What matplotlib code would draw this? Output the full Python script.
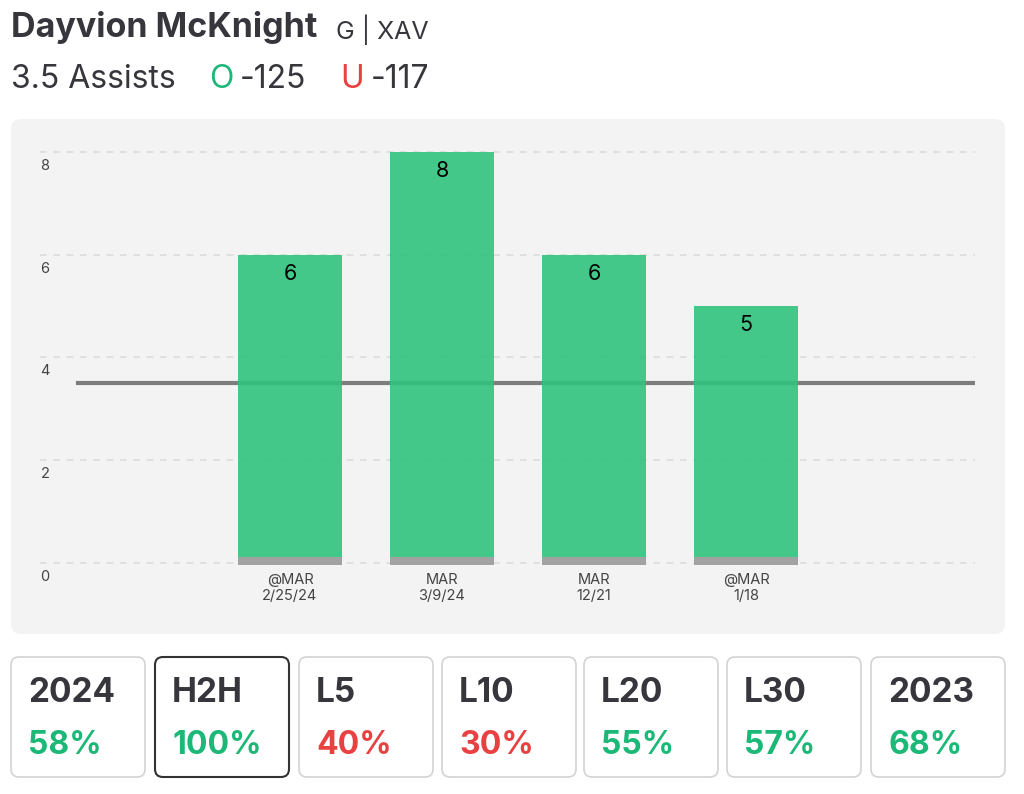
import numpy as np
import matplotlib
matplotlib.use('Agg')
import matplotlib.pyplot as plt
from matplotlib.patches import FancyBboxPatch
from matplotlib.transforms import IdentityTransform

# data
player = 'Dayvion McKnight'
tag = 'G | XAV'
prop_line = 3.5
prop_name = 'Assists'
over_odds = '-125'
under_odds = '-117'

games = ['@MAR\n2/25/24', 'MAR\n3/9/24', 'MAR\n12/21', '@MAR\n1/18']
assists = [6, 8, 6, 5]
yticks = [0, 2, 4, 6, 8]

box_labels = ['2024', 'H2H', 'L5', 'L10', 'L20', 'L30', '2023']
box_pcts = [58, 100, 40, 30, 55, 57, 68]
selected = 'H2H'

W, H = 1024, 794
GREEN_BAR = '#31c47e'
GREEN_TXT = '#1bb877'
RED = '#e84142'
DARK = '#36363c'

plt.rcParams['font.family'] = ['Inter', 'DejaVu Sans']

fig = plt.figure(figsize=(W/100, H/100), dpi=100)
fig.patch.set_facecolor('white')

def rbox(x0, y0, x1, y1, r, fc, ec='none', lw=1.0):
  p = FancyBboxPatch((x0 + r, H - y1 + r), (x1 - x0) - 2*r, (y1 - y0) - 2*r,
                     boxstyle='round,pad=%f' % r, fc=fc, ec=ec, lw=lw,
                     transform=IdentityTransform(), zorder=0)
  fig.patches.append(p)

def ftext(x, y, s, **kw):
  fig.text(x/W, 1 - y/H, s, **kw)

# header
ftext(11, 28, player, fontsize=24.5, fontweight='bold', color=DARK, va='center')
ftext(336, 30, tag, fontsize=18, color=DARK, va='center')
ftext(11, 79, '%s %s' % (prop_line, prop_name), fontsize=23, color=DARK, va='center')
ftext(209, 79, 'O', fontsize=23, color=GREEN_TXT, va='center')
ftext(240, 79, over_odds, fontsize=23, color=DARK, va='center')
ftext(340, 79, 'U', fontsize=23, color=RED, va='center')
ftext(371, 79, under_odds, fontsize=23, color=DARK, va='center')

# chart panel
rbox(11, 119, 1005, 634, 10, '#f3f3f3')

# axes: pixels 40..975 horizontally, 140..575 vertically
ppu = 51.4
y_top, y_bot = 140, 575
ax = fig.add_axes([40/W, 1 - y_bot/H, (975 - 40)/W, (y_bot - y_top)/H])
ax.set_zorder(5)
ax.set_facecolor('none')
ax.set_ylim(-(y_bot - 563)/ppu, (563 - y_top)/ppu)
slot = 152.0
ax.set_xlim((40 - 290)/slot, (975 - 290)/slot)
for s in ax.spines.values():
  s.set_visible(False)
ax.set_xticks([])
ax.set_yticks([])

for t in yticks:
  ax.axhline(t, color='#dcdcdc', lw=1.2, ls=(0, (4, 4)), zorder=0)
  ax.text(5/slot + ax.get_xlim()[0], t - 14/ppu, str(t), fontsize=10.5, color='#444444',
          ha='center', va='center')

x = np.arange(len(games))
bw = 104/slot
gray_h = 8/ppu
ax.plot([(78 - 290)/slot, ax.get_xlim()[1]], [prop_line, prop_line], color='#7d7d7d', lw=3, zorder=1)
ax.bar(x, np.array(assists) - gray_h + 2/ppu, bottom=gray_h - 2/ppu, width=bw, color=GREEN_BAR,
       alpha=0.9, zorder=2, lw=0)
ax.bar(x, gray_h, bottom=-2/ppu, width=bw, color='#a2a2a2', zorder=3, lw=0)
for xi, v in zip(x, assists):
  ax.text(xi, v - 19/ppu, str(v), fontsize=15.5, color='black', ha='center', va='center', zorder=4)
for xi, g in zip(x, games):
  ax.text(xi, -10/ppu, g, fontsize=10.5, color='#444444', ha='center', va='top',
          linespacing=1.2, clip_on=False)

# stat boxes
bx0 = [11, 155, 299, 442, 584, 727, 871]
for b0, lab, pct in zip(bx0, box_labels, box_pcts):
  b1 = b0 + 134
  sel = lab == selected
  rbox(b0, 657, b1, 777, 8, 'white', ec='#333333' if sel else '#d3d3d3', lw=1.5 if sel else 1.2)
  ftext(b0 + 17, 693, lab, fontsize=24, fontweight='bold', color=DARK, va='center')
  col = GREEN_TXT if pct >= 50 else RED
  ftext(b0 + 17, 745, '%d%%' % pct, fontsize=23, fontweight='bold', color=col, va='center')

fig.savefig('out.png', dpi=100)
